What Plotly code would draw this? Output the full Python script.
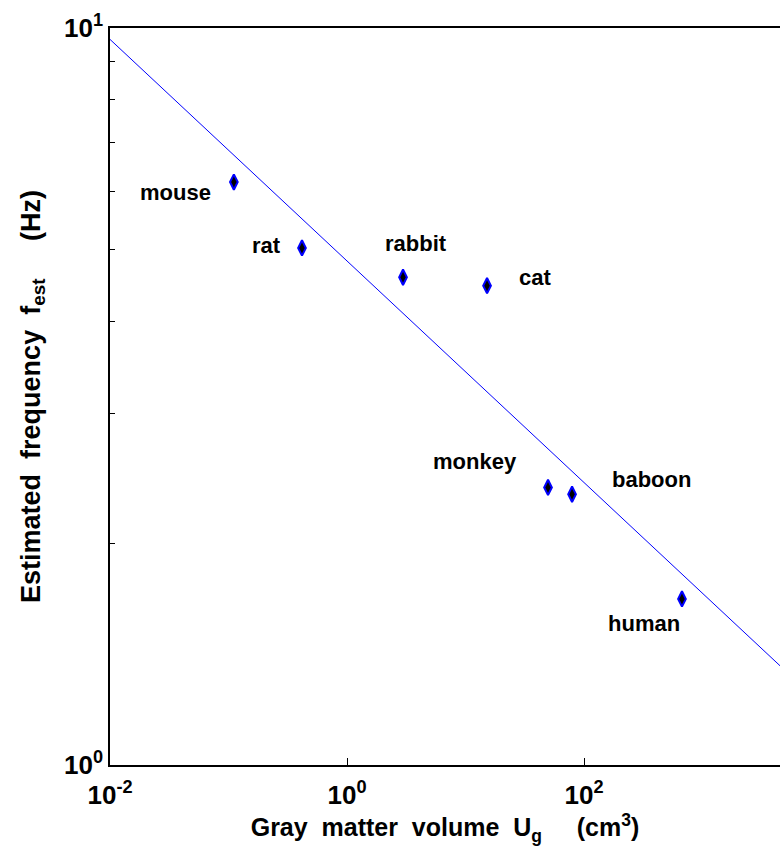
import numpy as np
import plotly.graph_objects as go

# Gray matter volume (cm^3) and estimated frequency (Hz) per species
species = ["mouse", "rat", "rabbit", "cat", "monkey", "baboon", "human"]
volume_cm3 = [0.111, 0.417, 2.97, 15.2, 49.7, 79.3, 671.0]
freq_hz = [6.18, 5.03, 4.59, 4.47, 2.38, 2.33, 1.68]

# axis tick labels
x_tickvals = [1e-2, 1e0, 1e2]
x_ticktext = ["10<sup>-2</sup>", "10<sup>0</sup>", "10<sup>2</sup>"]
y_tickvals = [1, 10]
y_ticktext = ["10<sup>0</sup>", "10<sup>1</sup>"]

# label placement relative to each marker (pixels; +x right, +y up)
label_offsets = {
    "mouse": (-58, -10),
    "rat": (-35, 2),
    "rabbit": (13, 34),
    "cat": (48, 8),
    "monkey": (-73, 26),
    "baboon": (79, 15),
    "human": (-38, -25),
}

# power-law fit in log-log space
slope, intercept = np.polyfit(np.log10(volume_cm3), np.log10(freq_hz), 1)
x_range_log = [-2, 3.654]
fit_x = np.logspace(x_range_log[0], x_range_log[1], 50)
fit_y = 10 ** (intercept + slope * np.log10(fit_x))

FONT = "Liberation Sans, Arial, sans-serif"
NB = "\u00a0"

fig = go.Figure()
fig.add_trace(go.Scatter(
    x=fit_x, y=fit_y, mode="lines",
    line=dict(color="#0000ff", width=1), hoverinfo="skip", showlegend=False,
))
fig.add_trace(go.Scatter(
    x=volume_cm3, y=freq_hz, mode="markers",
    marker=dict(symbol="diamond-tall", size=11, color="black",
                line=dict(color="#0000ff", width=2)),
    text=species, showlegend=False,
))

for name, vx, vy in zip(species, volume_cm3, freq_hz):
    dx, dy = label_offsets[name]
    fig.add_annotation(
        x=np.log10(vx), y=np.log10(vy), text=name, showarrow=False,
        xshift=dx, yshift=dy, xanchor="center", yanchor="middle",
        font=dict(family=FONT, size=22, color="black", weight="bold"),
    )

fig.update_layout(
    width=780, height=858,
    margin=dict(l=110, r=0, t=28, b=93),
    paper_bgcolor="white", plot_bgcolor="white",
    font=dict(family=FONT, color="black"),
)

fig.update_xaxes(
    type="log", range=x_range_log,
    tickvals=x_tickvals, ticktext=x_ticktext,
    tickfont=dict(family=FONT, size=26, color="black", weight="bold"),
    ticklabelstandoff=6,
    ticks="inside", ticklen=7, tickwidth=1, tickcolor="black",
    showline=True, linecolor="black", linewidth=1.5, mirror=True,
    showgrid=False, zeroline=False,
    title=dict(
        text=f"Gray{NB}{NB}matter{NB}{NB}volume{NB}{NB}U<sub>g</sub>{NB}{NB}{NB}{NB}{NB}(cm<sup>3</sup>)",
        font=dict(family=FONT, size=25, color="black", weight="bold"),
        standoff=10,
    ),
)
fig.update_yaxes(
    type="log", range=[0, 1],
    tickvals=y_tickvals, ticktext=y_ticktext,
    tickfont=dict(family=FONT, size=26, color="black", weight="bold"),
    ticks="inside", ticklen=7, tickwidth=1, tickcolor="black",
    minor=dict(tickvals=[2, 3, 4, 5, 6, 7, 8, 9], ticks="inside",
               ticklen=5, tickwidth=1, tickcolor="black"),
    showline=True, linecolor="black", linewidth=1.5, mirror=False,
    showgrid=False, zeroline=False,
    title=dict(
        text=f"Estimated{NB}{NB}frequency{NB}{NB}f<sub>est</sub>{NB}{NB}{NB}{NB}{NB}(Hz)",
        font=dict(family=FONT, size=27, color="black", weight="bold"),
        standoff=16,
    ),
)

fig.write_html("out.html")
